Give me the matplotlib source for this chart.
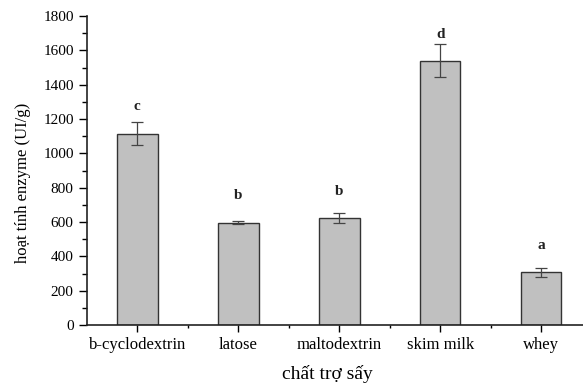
import numpy as np
from matplotlib import pyplot as plt
from matplotlib.ticker import MultipleLocator

# chất trợ sấy và hoạt tính enzyme tương ứng
carriers = ['b-cyclodextrin', 'latose', 'maltodextrin', 'skim milk', 'whey']
activity = [1115, 596, 622, 1540, 307]
errors = [66, 8, 28, 98, 27]
groups = ['c', 'b', 'b', 'd', 'a']

plt.rcParams['font.family'] = ['Liberation Serif', 'DejaVu Serif']

fig = plt.figure(figsize=(5.83, 3.83), dpi=100)
ax = fig.add_axes([0.149, 0.1514, 0.866, 0.8068])

x = np.arange(len(carriers))
ax.bar(x, activity, width=0.4, color='#c0c0c0', edgecolor='#333333', linewidth=1.0)
ax.errorbar(x, activity, yerr=errors, fmt='none', ecolor='#444444',
            elinewidth=0.9, capsize=4, capthick=0.9)

# chữ cái phân nhóm thống kê phía trên mỗi cột
label_gap = [90, 150, 130, 57, 128]
for xi, v, e, g, d in zip(x, activity, errors, groups, label_gap):
    ax.text(xi, v + e + d, g, ha='center', va='center', fontsize=11,
            fontweight='bold', color='#222222')

ax.set_xlim(-0.5, 4.5)
ax.set_ylim(0, 1800)
ax.set_xticks(x)
ax.set_xticklabels(carriers, fontsize=12)
ax.set_xticks(x + 0.5, minor=True)
ax.yaxis.set_major_locator(MultipleLocator(200))
ax.yaxis.set_minor_locator(MultipleLocator(100))
ax.tick_params(axis='y', which='major', length=6, width=1, labelsize=11, direction='out')
ax.tick_params(axis='y', which='minor', length=3.5, width=1, direction='out')
ax.tick_params(axis='x', which='major', length=5, width=1, direction='out')
ax.tick_params(axis='x', which='minor', length=2.5, width=1, direction='out')

for side in ['top', 'right']:
    ax.spines[side].set_visible(False)
for side in ['left', 'bottom']:
    ax.spines[side].set_linewidth(1.2)
    ax.spines[side].set_color('#222222')

ax.set_ylabel('hoạt tính enzyme (UI/g)', fontsize=12)
ax.set_xlabel('chất trợ sấy', fontsize=14)
ax.yaxis.set_label_coords(-0.11, 0.46)
ax.xaxis.set_label_coords(0.477, -0.13)

fig.savefig('out.png', dpi=100)
